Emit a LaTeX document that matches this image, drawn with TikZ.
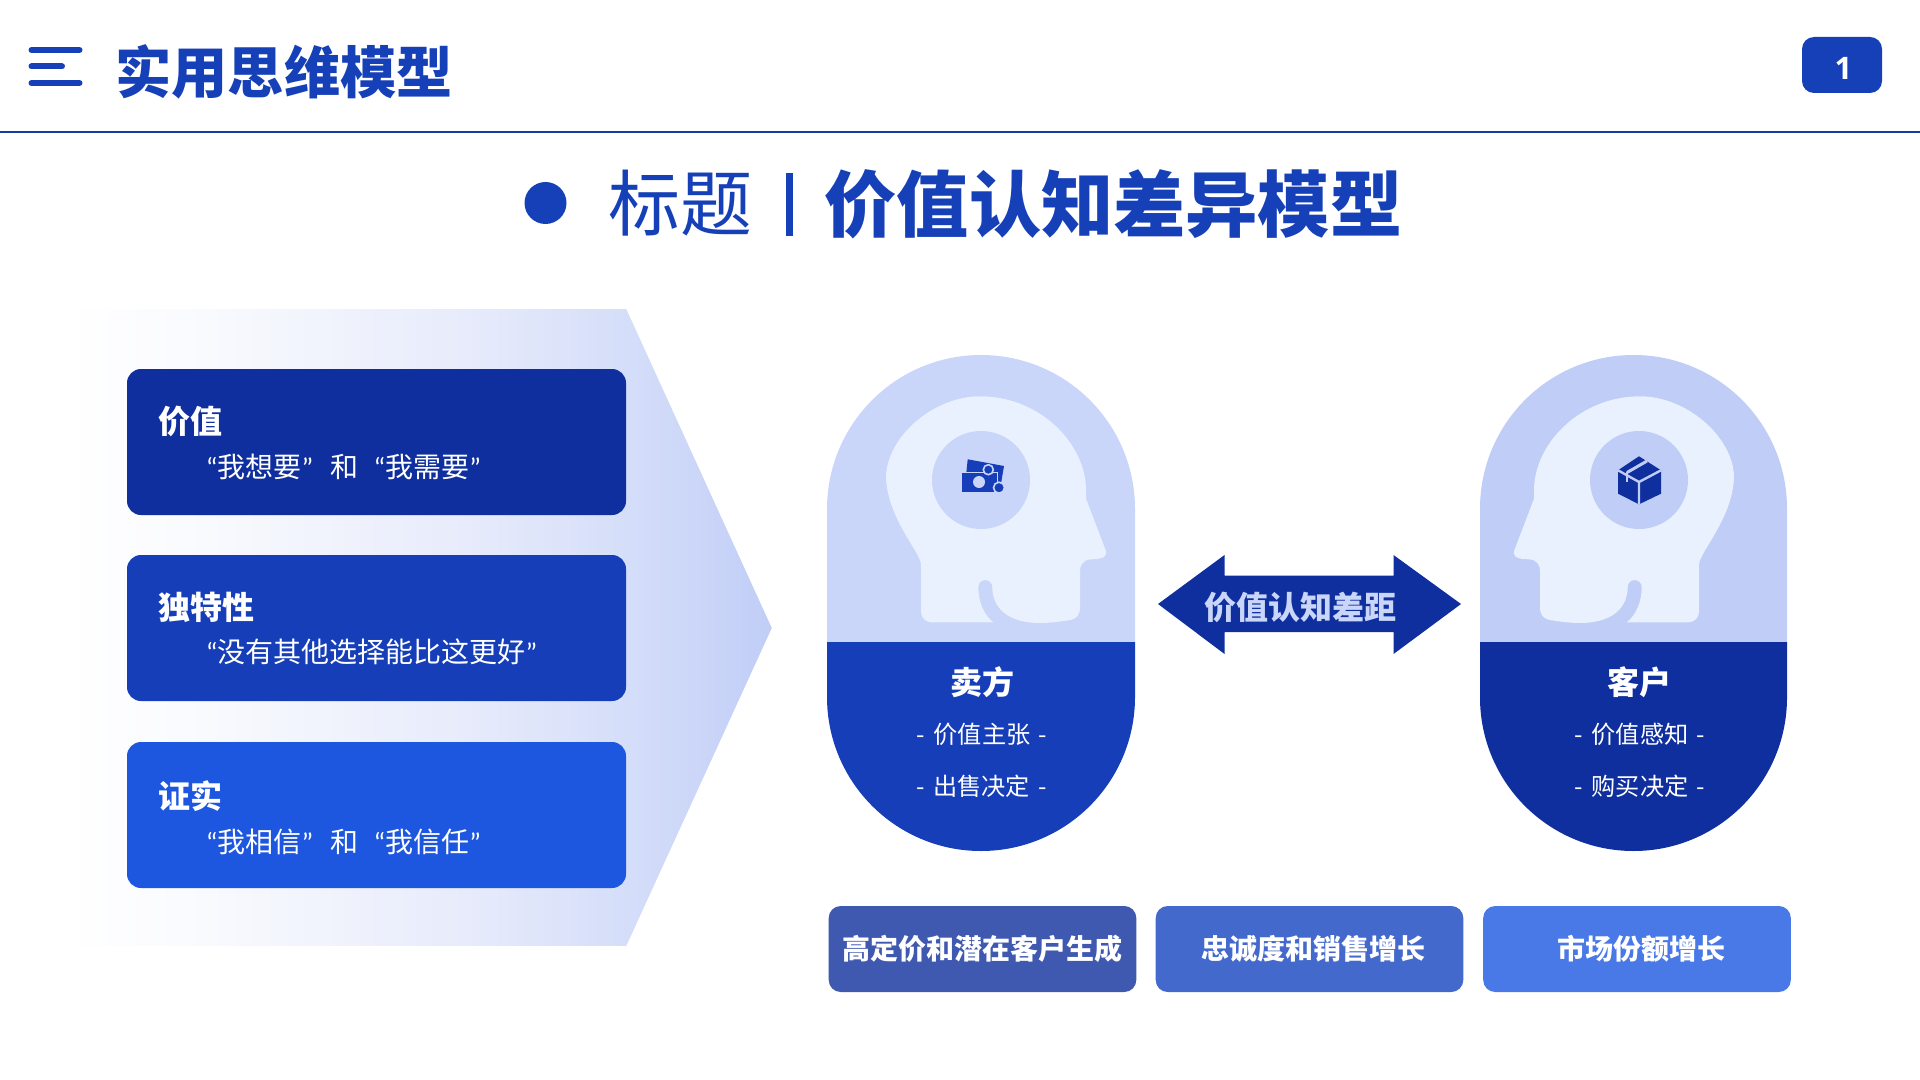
\documentclass[tikz,border=0pt]{standalone}
\usepackage{fontspec}
\setmainfont{Noto Sans CJK SC}
\newfontfamily\heavyfont{Noto Sans CJK SC Black}
\newfontfamily\boldfont{Noto Sans CJK SC Bold}
\newfontfamily\quotefont{Carlito}
\newfontfamily\numfont{Open Sans}
\definecolor{titleblue}{HTML}{1640B8}
\definecolor{navy}{HTML}{0F2F9E}
\definecolor{royal}{HTML}{153EB8}
\definecolor{bright}{HTML}{1D57E0}
\definecolor{paleleft}{HTML}{C9D6F9}
\definecolor{paleright}{HTML}{BFCDF7}
\definecolor{headfill}{HTML}{E8F1FD}
\definecolor{resultone}{HTML}{3F59B0}
\definecolor{resulttwo}{HTML}{4369CC}
\definecolor{resultthree}{HTML}{4979E6}
\definecolor{fadezero}{HTML}{F9FAFE}
\definecolor{fadeone}{HTML}{E7EBFB}
\definecolor{fadetwo}{HTML}{D5DEF9}
\definecolor{fadethree}{HTML}{C0CDF6}
\pgfdeclarehorizontalshading{arrowfade}{100bp}{color(0bp)=(white); color(26bp)=(white); color(36bp)=(fadezero); color(53.8bp)=(fadeone); color(64.9bp)=(fadetwo); color(75bp)=(fadethree); color(100bp)=(fadethree)}
\newcommand{\oq}{{\quotefont “}}
\newcommand{\cq}{{\quotefont ”}}
\newcommand{\dashed}[1]{-\hspace{4.2pt}#1\hspace{4.2pt}-}
\tikzset{
	cardbox/.style={fill=#1,rounded corners=7pt,minimum width=249.5pt,minimum height=73pt,inner sep=0pt},
	cardhead/.style={anchor=west,inner sep=0pt,text=white,font=\heavyfont\fontsize{16}{18}\selectfont},
	cardtext/.style={anchor=west,inner sep=0pt,text=white,font=\fontsize{14}{16}\selectfont},
	result/.style={fill=#1,rounded corners=6pt,minimum width=153.8pt,minimum height=43pt,inner sep=0pt,text=white,font=\heavyfont\fontsize{14}{16}\selectfont},
	headname/.style={inner sep=0pt,text=white,font=\heavyfont\fontsize{16}{18}\selectfont},
	headline/.style={inner sep=0pt,text=white,font=\fontsize{12.1}{14}\selectfont},
	brain/.style={circle,fill=#1,minimum size=49pt,inner sep=0pt},
	pics/headshape/.style={code={
		\fill[headfill] (-49.3,142.3) .. controls (-55,142.3) and (-60,138) .. (-60,132) -- (-60,87)
			.. controls (-60,83) and (-60.5,80.5) .. (-61.7,78.7)
			.. controls (-68,64) and (-94,33) .. (-95,-3)
			.. controls (-94.3,-43) and (-47.7,-83.7) .. (-1,-83.7)
			.. controls (59,-83.7) and (105,-36.3) .. (105,10.3) -- (105,18.7) -- (124.7,70.3)
			.. controls (126.5,75) and (124,79.3) .. (110.7,79.3)
			.. controls (102.3,79.3) and (99,85.3) .. (99,90.3) -- (99,127)
			.. controls (99,135.3) and (95.7,138) .. (90.7,139.7)
			.. controls (82.3,141.3) and (69,143) .. (59,143)
			.. controls (25.7,143) and (11.3,127) .. (11.3,107)
			arc[start angle=0,end angle=-180,radius=7]
			.. controls (-2.7,122) and (3,135) .. (12.3,142.3) -- cycle;
	}}
}
\begin{document}
\begin{tikzpicture}[x=0.5pt,y=-0.5pt]
\useasboundingbox (0,0) rectangle (1920,1080);
% header
\foreach \ly/\lx in {50/82,66.5/64.5,83/82}
	\draw[titleblue,line width=3pt,line cap=round] (31.5,\ly) -- (\lx-2.5,\ly);
\node[inner sep=0pt,text=titleblue,font=\heavyfont\fontsize{28.1}{30}\selectfont] (pagetitle) at (284,71.5) {实用思维模型};
\draw[color=titleblue!90!black,line width=1pt] (0,132) -- (1920,132);
\node[fill=titleblue,rounded corners=6pt,minimum width=40pt,minimum height=28pt,inner sep=0pt] (pagebox) at (1842,65) {};
\node[inner sep=0pt,text=white,font=\numfont\bfseries\fontsize{15.5}{17}\selectfont] (pagenum) at (1843.5,68) {1};
% heading
\node[circle,fill=titleblue,minimum size=21pt,inner sep=0pt] (bullet) at (545.5,203) {};
\node[inner sep=0pt,text=titleblue,font=\fontsize{36}{38}\selectfont] (headplain) at (680.5,203.5) {标题};
\fill[titleblue] (786,173) rectangle (793,236);
\node[inner sep=0pt,text=titleblue,font=\heavyfont\fontsize{36.1}{38}\selectfont] (headbold) at (1113.5,204) {价值认知差异模型};
% left block
\shadedraw[shading=arrowfade,draw=white,line width=1pt] (50,308) -- (627,308) -- (773,628) -- (627,947) -- (50,947) -- cycle;
\node[cardbox=navy] (card1) at (376.5,442) {};
\node[cardbox=royal] (card2) at (376.5,628) {};
\node[cardbox=bright] (card3) at (376.5,815) {};
\node[cardhead] (cardhead1) at (158,421) {价值};
\node[cardtext] (cardtext1) at (205.5,466.5) {\oq 我想要\cq\hspace{8.5pt}和\hspace{7.7pt}\oq 我需要\cq};
\node[cardhead] (cardhead2) at (158,607) {独特性};
\node[cardtext] (cardtext2) at (205.5,651.5) {\oq 没有其他选择能比这更好\cq};
\node[cardhead] (cardhead3) at (158,796.5) {证实};
\node[cardtext] (cardtext3) at (205.5,841.5) {\oq 我相信\cq\hspace{8.5pt}和\hspace{7.7pt}\oq 我信任\cq};
% seller head
\fill[paleleft] (827,642) -- (827,509) arc[start angle=180,end angle=360,radius=154] -- (1135,642) -- cycle;
\fill[royal] (827,642) -- (827,697) arc[start angle=180,end angle=0,radius=154] -- (1135,642) -- cycle;
\pic at (981,480) {headshape};
\node[brain=paleleft] (sellerbrain) at (981,480) {};
\begin{scope}[shift={(981,480)}]
	\fill[royal] (-13.3,-20.7) -- (23,-14) -- (20,3.7) -- (-15.3,-1.3) -- cycle;
	\fill[royal,draw=paleleft,line width=0.7pt] (-20,-7.3) rectangle (16.7,12.3);
	\fill[paleleft] (-2,2) circle[radius=6];
	\fill[royal,draw=paleleft,line width=0.8pt] (7.3,-10.3) circle[radius=5];
	\fill[royal,draw=paleleft,line width=0.8pt] (18,7.7) circle[radius=5.5];
\end{scope}
\node[headname] (seller) at (982,682.5) {卖方};
\node[headline] (seller1) at (982,734) {\dashed{价值主张}};
\node[headline] (seller2) at (981.5,786.5) {\dashed{出售决定}};
% customer head
\fill[paleright] (1480,642) -- (1480,508.5) arc[start angle=180,end angle=360,radius=153.5] -- (1787,642) -- cycle;
\fill[navy] (1480,642) -- (1480,697.5) arc[start angle=180,end angle=0,radius=153.5] -- (1787,642) -- cycle;
\pic[xscale=-1] at (1639,480) {headshape};
\node[brain=paleright] (buyerbrain) at (1639,480) {};
\begin{scope}[shift={(1639,480)}]
	\fill[navy] (0,-23.7) -- (22,-9.7) -- (22,13.7) -- (0,24.3) -- (-21,13.7) -- (-21,-9.7) -- cycle;
	\draw[paleright,line width=1.2pt] (-21,-9.7) -- (0,2) -- (22,-9.7) (0,2) -- (0,24.3);
	\draw[paleright,line width=1.5pt] (8,-19) -- (-12,-7.5);
	\draw[paleright,line width=1.4pt] (-12,-8) -- (-12,2);
\end{scope}
\node[headname] (buyer) at (1639.5,682.5) {客户};
\node[headline] (buyer1) at (1640,734) {\dashed{价值感知}};
\node[headline] (buyer2) at (1640,786.5) {\dashed{购买决定}};
% gap arrow
\fill[navy] (1158,604) -- (1224.5,555) -- (1224.5,575.5) -- (1393.5,575.5) -- (1393.5,555) -- (1461,604) -- (1393.5,654) -- (1393.5,632) -- (1224.5,632) -- (1224.5,654) -- cycle;
\node[inner sep=0pt,text=paleleft,font=\heavyfont\fontsize{16}{18}\selectfont] (gaplabel) at (1300.5,607) {价值认知差距};
% results
\node[result=resultone] (result1) at (982.5,949) {高定价和潜在客户生成};
\node[result=resulttwo] (result2) at (1309.5,949) {\hspace{4pt}忠诚度和销售增长};
\node[result=resultthree] (result3) at (1637,949) {\hspace{4pt}市场份额增长};
\end{tikzpicture}
\end{document}
